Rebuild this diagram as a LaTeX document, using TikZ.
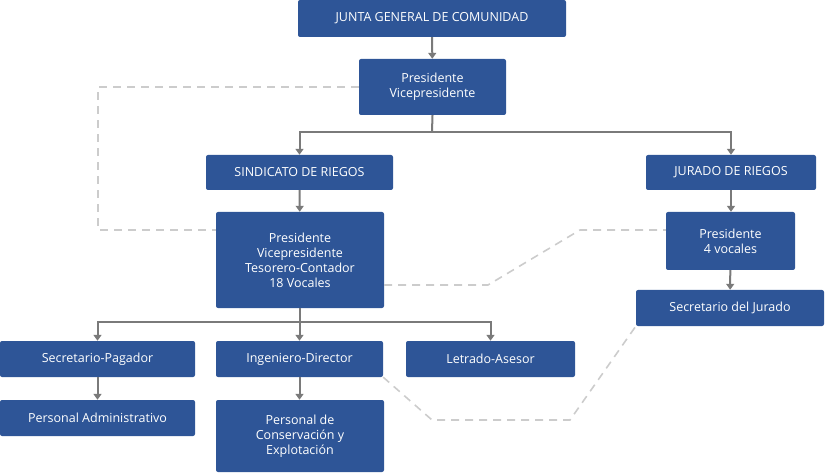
\documentclass[tikz,border=0pt]{standalone}
\usepackage{fontspec}
\setmainfont{Open Sans}
\usetikzlibrary{arrows.meta}
\definecolor{boxblue}{HTML}{2E5597}
\definecolor{linegray}{HTML}{7A7A7A}
\definecolor{dashgray}{HTML}{CCCCCC}

\begin{document}
\begin{tikzpicture}[
    x = 1pt,
    y = -1pt,
    >={Triangle[length=6pt,width=8pt]},
    box/.style = {
      fill = boxblue,
      text = white,
      rounded corners = 2pt,
      align = center,
      inner sep = 0pt,
      font = \fontsize{12.5}{15}\selectfont
    },
    link/.style = {draw = linegray, line width = 2pt},
    loose/.style = {draw = dashgray, line width = 1.6pt, dash pattern = on 8pt off 6pt}
  ]
  \useasboundingbox (0,0) rectangle (825,473);

  \node[box, minimum width=268pt, minimum height=37pt] (junta) at (432,18.5) {JUNTA GENERAL DE COMUNIDAD};
  \node[box, minimum width=147pt, minimum height=56pt] (mesa) at (432.5,87) {Presidente\\Vicepresidente};
  \node[box, minimum width=187pt, minimum height=35pt] (sindicato) at (299.5,172.5) {SINDICATO DE RIEGOS};
  \node[box, minimum width=170pt, minimum height=35pt] (jurado) at (731,172.5) {JURADO DE RIEGOS};
  \node[box, minimum width=168pt, minimum height=96pt] (junta sind) at (300,260) {Presidente\\Vicepresidente\\Tesorero-Contador\\18 Vocales};
  \node[box, minimum width=129pt, minimum height=58pt] (junta jur) at (730.5,241) {Presidente\\4 vocales};
  \node[box, minimum width=188pt, minimum height=36pt] (secretario) at (730,308) {Secretario del Jurado};
  \node[box, minimum width=195pt, minimum height=36pt] (pagador) at (97.5,359) {Secretario-Pagador};
  \node[box, minimum width=167pt, minimum height=36pt] (ingeniero) at (299.5,359) {Ingeniero-Director};
  \node[box, minimum width=169pt, minimum height=36pt] (letrado) at (490.5,359) {Letrado-Asesor};
  \node[box, minimum width=195pt, minimum height=36pt] (admin) at (97.5,418) {Personal Administrativo};
  \node[box, minimum width=168pt, minimum height=72pt] (conserv) at (300,436) {Personal de\\Conservación y\\Explotación};

  % dashed links
  \draw[loose] (mesa.west) -- ++(-4,0) -| (98,230) -- (junta sind.west |- 0,230);
  \draw[loose] (junta sind.east |- 0,285) -- (488,285) -- (580,230) -- (junta jur.west |- 0,230);
  \draw[loose] (ingeniero.south east) -- (432,420) -- (570,420) -- (secretario.south west);

  % hierarchy
  \draw[link,->] (junta) -- (mesa);
  \draw[link] (mesa.south) -- (432,132) coordinate (split);
  \draw[link,->] (split) -| (sindicato.north);
  \draw[link,->] (split) -| (jurado.north);
  \draw[link,->] (sindicato) -- (junta sind);
  \draw[link,->] (jurado.south) -- (junta jur.north -| jurado.south);
  \draw[link,->] (junta jur) -- (secretario);
  \draw[link] (junta sind.south) -- (300,322) coordinate (fork);
  \draw[link,->] (fork) -| (pagador.north);
  \draw[link,->] (fork) -| (ingeniero.north);
  \draw[link,->] (fork) -| (letrado.north);
  \draw[link,->] (pagador) -- (admin);
  \draw[link,->] (ingeniero.south) -- (conserv.north -| ingeniero.south);
\end{tikzpicture}
\end{document}
